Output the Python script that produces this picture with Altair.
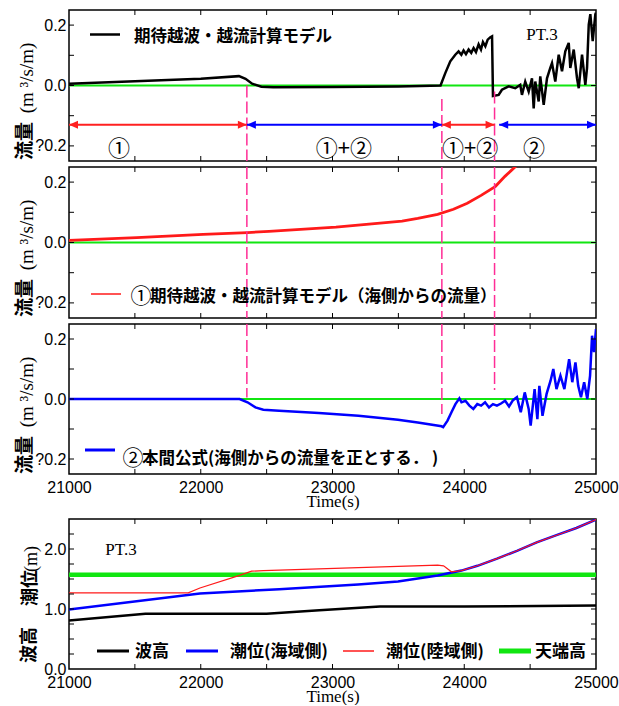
import altair as alt
import pandas as pd

# ---------------- data ----------------
T_MIN, T_MAX = 21000, 25000

# panel 1 : 期待越波・越流計算モデル (black)
total_t = [21000, 21500, 22000, 22290, 22340, 22390, 22460, 22550, 23000, 23500, 23820,
           23856, 23894, 23932, 23957, 23978, 23995, 24013, 24033, 24053, 24071, 24089,
           24109, 24127, 24142, 24160, 24178, 24198, 24211,
           24218, 24261, 24286, 24337, 24387, 24425, 24438, 24463, 24489, 24514, 24527,
           24539, 24565, 24577, 24603, 24628, 24653, 24666, 24691, 24717, 24742, 24767,
           24793, 24805, 24831, 24856, 24869, 24894, 24919, 24932, 24945, 24957, 24975,
           24995, 25000]
total_q = [0.006, 0.014, 0.022, 0.031, 0.022, 0.006, -0.004, -0.006, -0.005, -0.003, 0.0,
           0.041, 0.080, 0.102, 0.113, 0.102, 0.116, 0.104, 0.119, 0.108, 0.124, 0.111,
           0.136, 0.119, 0.144, 0.130, 0.152, 0.160, 0.163,
           -0.035, -0.031, -0.014, -0.003, -0.009, 0.002, -0.031, 0.013, -0.020, 0.024, -0.076,
           0.013, -0.053, 0.030, -0.064, 0.024, 0.058, 0.074, 0.013, 0.102, 0.047, 0.113,
           0.141, 0.058, 0.119, 0.024, -0.009, 0.102, 0.002, 0.058, 0.202, 0.236, 0.147,
           0.236, 0.241]

# panel 2 : ①期待越波・越流計算モデル（海側からの流量） (red)
model_t = [21000, 21514, 22018, 22355, 22518, 23026, 23528, 23647, 23798, 23918, 24023,
           24128, 24237, 24309, 24400, 24450]
model_q = [0.007, 0.016, 0.027, 0.033, 0.037, 0.051, 0.071, 0.080, 0.093, 0.110, 0.130,
           0.156, 0.186, 0.219, 0.256, 0.280]

# panel 3 : ②本間公式 (blue)
homma_t = [21000, 22295, 22355, 22415, 22475, 22595, 22896, 23197, 23497, 23647,
           23828, 23840, 23873, 23903, 23933, 23963,
           23979, 24009, 24039, 24069, 24099, 24128, 24158, 24188, 24218, 24248,
           24279, 24310, 24340, 24370, 24400, 24429, 24459, 24489, 24504, 24534, 24555, 24570, 24594,
           24625, 24655, 24676, 24700, 24730, 24760, 24796, 24820, 24844, 24865,
           24886, 24910, 24934, 24955, 24970, 24985, 25000]
homma_q = [0.0, 0.0, -0.011, -0.028, -0.036, -0.039, -0.047, -0.056, -0.069, -0.078,
           -0.091, -0.094, -0.072, -0.044, -0.017, 0.002,
           -0.011, -0.006, -0.022, -0.033, -0.017, -0.022, -0.011, -0.028, -0.017, -0.022,
           -0.015, -0.006, -0.025, -0.004, 0.006, -0.044, 0.022, -0.033, -0.089, 0.033, -0.067, 0.044, -0.056,
           0.017, 0.061, 0.100, 0.033, 0.078, 0.033, 0.133, 0.056, 0.122, 0.044,
           0.006, 0.056, 0.0, 0.078, 0.211, 0.156, 0.233]

# panel 4 : 波高 / 潮位
wave_t = [21000, 21580, 22500, 22900, 23360, 24000, 25000]
wave_h = [0.81, 0.92, 0.92, 0.98, 1.04, 1.04, 1.06]
sea_t = [21000, 21994, 22596, 23194, 23497, 23798, 23979, 24100, 24249, 24400, 24550, 24700, 24851, 25000]
sea_h = [0.99, 1.26, 1.33, 1.41, 1.46, 1.56, 1.64, 1.72, 1.84, 1.97, 2.11, 2.23, 2.35, 2.49]
land_t = [21000, 21905, 21994, 22295, 22386, 22476, 23798, 23843, 23903, 23979, 24100, 24249,
          24400, 24550, 24700, 24851, 25000]
land_h = [1.27, 1.27, 1.35, 1.56, 1.63, 1.64, 1.73, 1.72, 1.62, 1.64, 1.72, 1.84,
          1.97, 2.11, 2.23, 2.35, 2.49]
crest_h = [1.57]
zero_q = [0.0]

# region boundaries and annotations
boundaries = [22350, 23830, 24230]
p1_dash_top = [0.0, -0.045, -0.02]
p1_dash_bot = [-0.25, -0.25, -0.25]
p2_dash_top = [0.25, 0.25, 0.25]
p2_dash_bot = [-0.25, -0.25, -0.25]
p3_dash_top = [0.25, 0.25, 0.25]
p3_dash_bot = [0.005, -0.05, 0.03]

arrow_start = [21000, 22350, 23830, 24265]
arrow_end = [22350, 23830, 24230, 25000]
arrow_color = ["#ff2020", "#0000ff", "#ff2020", "#0000ff"]
arrow_q = [-0.13, -0.13, -0.13, -0.13]

region_text = ["①", "①+②", "①+②", "②"]
region_t = [21380, 23087, 24044, 24530]
region_q = [-0.21, -0.21, -0.21, -0.21]

x_label_values = [21000, 22000, 23000, 24000, 25000]
x_tick_values = [21500, 22000, 22500, 23000, 23500, 24000, 24500]
q_tick_values = [-0.2, -0.1, 0.0, 0.1, 0.2]
q_label_values = [-0.2, 0.0, 0.2]
h_tick_values = [0.25, 0.5, 0.75, 1.0, 1.25, 1.5, 1.75, 2.0, 2.25]
h_label_values = [0.0, 1.0, 2.0]

# ---------------- style ----------------
W = 527
H = [151, 151, 150, 150]
PINK = "#ff2d96"
GREEN = "#11e611"
JP = "Noto Sans CJK JP"
SANS = "Liberation Sans"
SERIF = "Liberation Serif"
RIGHT_HEAD = "M0,0L-1,-0.45L-1,0.45Z"
LEFT_HEAD = "M0,0L1,-0.45L1,0.45Z"

one = pd.DataFrame({"k": [0]})

xs = alt.Scale(domain=[T_MIN, T_MAX], nice=False, zero=False)
qs = alt.Scale(domain=[-0.25, 0.25], nice=False, zero=False)
hs = alt.Scale(domain=[0, 2.5], nice=False, zero=False)

x_axis_bottom = alt.Axis(values=x_label_values, format="d", labelFont=SANS, labelFontSize=16,
                         labelColor="black", labelPadding=5, ticks=False, domain=False, grid=False,
                         labelFlush=False, labelOverlap=False,
                         title="Time(s)", titleFont=SERIF, titleFontSize=17,
                         titleFontWeight="normal", titleColor="black", titlePadding=-2)
q_axis = alt.Axis(values=q_label_values,
                  labelExpr="datum.value < 0 ? '?' + format(-datum.value, '.1f') : format(datum.value, '.1f')",
                  labelFont=SANS, labelFontSize=16, labelColor="black", labelPadding=3,
                  ticks=False, domain=False, grid=False, title=None)
h_axis = alt.Axis(values=h_label_values, format=".1f", labelFont=SANS, labelFontSize=16,
                  labelColor="black", labelPadding=3, ticks=False, domain=False, grid=False,
                  title=None)


def X(field, axis):
    if axis is None:
        return alt.X(field, type="quantitative", scale=xs, axis=None)
    return alt.X(field, type="quantitative", scale=xs, axis=axis)


def frame_ticks(ys, yaxis, xaxis, ytick_vals, h, L=5):
    dfx = pd.DataFrame({"t": x_tick_values})
    dfy = pd.DataFrame({"v": ytick_vals})
    out = []
    for y0, y1 in [(h, h - L), (0, L)]:
        out.append(alt.Chart(dfx).mark_rule(color="black", strokeWidth=1).encode(
            x=X("t", xaxis), y=alt.value(y0), y2=alt.value(y1)))
    for x0, x1 in [(0, L), (W - L, W)]:
        out.append(alt.Chart(dfy).mark_rule(color="black", strokeWidth=1).encode(
            y=alt.Y("v:Q", scale=ys, axis=yaxis), x=alt.value(x0), x2=alt.value(x1)))
    return out


def hline(x1, x2, y, color, width):
    return alt.Chart(one).mark_rule(color=color, strokeWidth=width).encode(
        x=alt.value(x1), x2=alt.value(x2), y=alt.value(y))


def label(text, x, y, font=JP, size=16.5, weight="bold", align="left", angle=0):
    return alt.Chart(one).mark_text(text=text, font=font, fontSize=size, fontWeight=weight,
                                    align=align, baseline="middle", angle=angle,
                                    color="black").encode(x=alt.value(x), y=alt.value(y))


def qtitle():
    return [label("流量", -44, 131, size=19, align="center", angle=270),
            label("(m ³/s/m)", -42, 68, font=SERIF, size=19, weight="normal",
                  align="center", angle=270)]


def zero_layer(ys, yaxis, xaxis):
    return alt.Chart(pd.DataFrame({"v": zero_q})).mark_rule(color=GREEN, strokeWidth=2).encode(
        y=alt.Y("v:Q", scale=ys, axis=yaxis))


def dash_layer(top, bot, ys, yaxis, xaxis):
    df = pd.DataFrame({"t": boundaries, "a": top, "b": bot})
    return alt.Chart(df).mark_rule(color=PINK, strokeWidth=1.5, strokeDash=[12, 4]).encode(
        x=X("t", xaxis), y=alt.Y("a:Q", scale=ys, axis=yaxis), y2="b:Q")


def series(t, v, color, width, ys, yaxis, xaxis):
    df = pd.DataFrame({"t": t, "v": v})
    return alt.Chart(df).mark_line(color=color, strokeWidth=width, clip=True).encode(
        x=X("t", xaxis), y=alt.Y("v:Q", scale=ys, axis=yaxis))


# ---------------- panel 1 ----------------
arrow_df = pd.DataFrame({"t0": arrow_start, "t1": arrow_end, "c": arrow_color, "q": arrow_q})
region_df = pd.DataFrame({"t": region_t, "q": region_q, "txt": region_text})

p1_layers = [
    alt.Chart(one).mark_rule(color="white", strokeWidth=1).encode(
        x=alt.value(-67), x2=alt.value(-66), y=alt.value(-8)),
    zero_layer(qs, q_axis, None),
    series(total_t, total_q, "black", 2.5, qs, q_axis, None),
    dash_layer(p1_dash_top, p1_dash_bot, qs, q_axis, None),
    alt.Chart(arrow_df).mark_rule(strokeWidth=2).encode(
        x=X("t0", None), x2="t1:Q", y=alt.Y("q:Q", scale=qs, axis=q_axis),
        color=alt.Color("c:N", scale=None)),
    alt.Chart(arrow_df).mark_point(shape=RIGHT_HEAD, filled=True, size=324, opacity=1,
                                   strokeWidth=0).encode(
        x=X("t1", None), y=alt.Y("q:Q", scale=qs, axis=q_axis), color=alt.Color("c:N", scale=None)),
    alt.Chart(arrow_df).mark_point(shape=LEFT_HEAD, filled=True, size=324, opacity=1,
                                   strokeWidth=0).encode(
        x=X("t0", None), y=alt.Y("q:Q", scale=qs, axis=q_axis), color=alt.Color("c:N", scale=None)),
    alt.Chart(region_df).mark_text(font=JP, fontSize=22, color="black", baseline="middle").encode(
        x=X("t", None), y=alt.Y("q:Q", scale=qs, axis=q_axis), text="txt:N"),
    hline(21, 51, 24.5, "black", 2.5),
    label("期待越波・越流計算モデル", 65, 27),
    label("PT.3", 473, 25, font=SERIF, size=17, weight="normal", align="center"),
] + qtitle() + frame_ticks(qs, q_axis, None, q_tick_values, H[0])
p1 = alt.layer(*p1_layers).properties(width=W, height=H[0])

# ---------------- panel 2 ----------------
p2_layers = [
    zero_layer(qs, q_axis, None),
    series(model_t, model_q, "#ff1a1a", 2.8, qs, q_axis, None),
    dash_layer(p2_dash_top, p2_dash_bot, qs, q_axis, None),
    hline(22, 52, 127, "#ff1a1a", 1.5),
    label("①", 72, 130, size=21, weight="normal", align="center"),
    label("期待越波・越流計算モデル（海側からの流量）", 81, 130),
] + qtitle() + frame_ticks(qs, q_axis, None, q_tick_values, H[1])
p2 = alt.layer(*p2_layers).properties(width=W, height=H[1])

# ---------------- panel 3 ----------------
p3_layers = [
    zero_layer(qs, q_axis, x_axis_bottom),
    series(homma_t, homma_q, "#0000ff", 2.5, qs, q_axis, x_axis_bottom),
    dash_layer(p3_dash_top, p3_dash_bot, qs, q_axis, x_axis_bottom),
    hline(16, 46, 126, "#0000ff", 3),
    label("②", 64, 135, size=21, weight="normal", align="center"),
    label("本間公式(海側からの流量を正とする．  )", 73, 135),
] + qtitle() + frame_ticks(qs, q_axis, x_axis_bottom, q_tick_values, H[2])
p3 = alt.layer(*p3_layers).properties(width=W, height=H[2])

# ---------------- spacer ----------------
spacer = alt.Chart(one).mark_point(opacity=0).encode(
    x=alt.value(0), y=alt.value(0)).properties(
    width=W, height=33, view=alt.ViewBackground(strokeOpacity=0))

# ---------------- panel 4 ----------------
p4_layers = [
    alt.Chart(pd.DataFrame({"v": crest_h})).mark_rule(color=GREEN, strokeWidth=4.5).encode(
        y=alt.Y("v:Q", scale=hs, axis=h_axis)),
    series(wave_t, wave_h, "black", 2.5, hs, h_axis, x_axis_bottom),
    series(sea_t, sea_h, "#0000ff", 2.5, hs, h_axis, x_axis_bottom),
    series(land_t, land_h, "#ff1a1a", 1.2, hs, h_axis, x_axis_bottom),
    label("PT.3", 52, 31, font=SERIF, size=17, weight="normal", align="center"),
    hline(28, 60, 132, "black", 3),
    label("波高", 66, 133, size=17),
    hline(117, 149, 132, "#0000ff", 3),
    label("潮位(海域側)", 161, 133, size=17),
    hline(274, 305, 132, "#ff1a1a", 1.5),
    label("潮位(陸域側)", 317, 133, size=17),
    hline(430, 462, 132, GREEN, 5),
    label("天端高", 466, 133, size=17),
    label("潮位", -38, 69, size=18, align="center", angle=270),
    label("(m)", -37, 40, font=SERIF, size=18, weight="normal", align="center", angle=270),
    label("波高", -39, 126, size=18, align="center", angle=270),
] + frame_ticks(hs, h_axis, x_axis_bottom, h_tick_values, H[3])
p4 = alt.layer(*p4_layers).properties(width=W, height=H[3])

chart = alt.vconcat(p1, p2, p3, spacer, p4, spacing=6, bounds="flush").properties(
    padding={"left": 0, "top": 0, "right": 0, "bottom": 0}, background="white"
).configure_view(stroke="black", strokeWidth=1.5)

chart.save("out.html", embed_options={"renderer": "svg", "actions": False})
